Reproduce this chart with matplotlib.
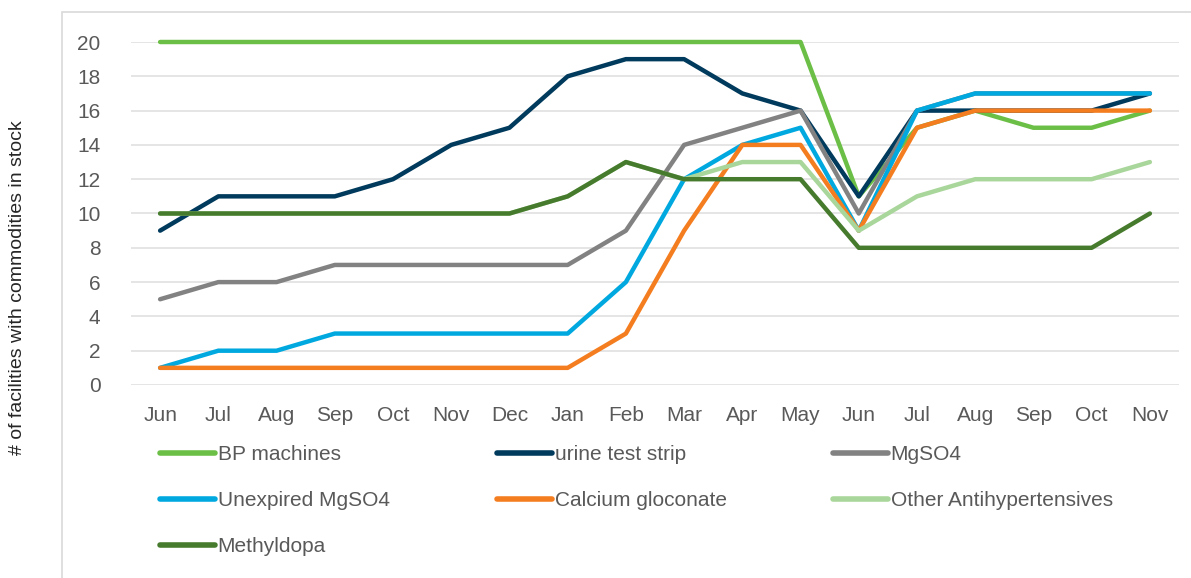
import matplotlib
matplotlib.use("Agg")
import matplotlib.pyplot as plt
from matplotlib.patches import Rectangle

# months on x axis
months = ["Jun", "Jul", "Aug", "Sep", "Oct", "Nov", "Dec", "Jan", "Feb",
          "Mar", "Apr", "May", "Jun", "Jul", "Aug", "Sep", "Oct", "Nov"]

bp_machines = [20, 20, 20, 20, 20, 20, 20, 20, 20, 20, 20, 20, 11, 15, 16, 15, 15, 16]
urine_strip = [9, 11, 11, 11, 12, 14, 15, 18, 19, 19, 17, 16, 11, 16, 16, 16, 16, 17]
mgso4 = [5, 6, 6, 7, 7, 7, 7, 7, 9, 14, 15, 16, 10, 16, 17, 17, 17, 17]
unexpired_mgso4 = [1, 2, 2, 3, 3, 3, 3, 3, 6, 12, 14, 15, 9, 16, 17, 17, 17, 17]
calcium = [1, 1, 1, 1, 1, 1, 1, 1, 3, 9, 14, 14, 9, 15, 16, 16, 16, 16]
other_antihyp = [10, 10, 10, 10, 10, 10, 10, 11, 13, 12, 13, 13, 9, 11, 12, 12, 12, 13]
methyldopa = [10, 10, 10, 10, 10, 10, 10, 11, 13, 12, 12, 12, 8, 8, 8, 8, 8, 10]

series_names = ["BP machines", "urine test strip", "MgSO4", "Unexpired MgSO4",
                "Calcium gloconate", "Other Antihypertensives", "Methyldopa"]
series_vals = [bp_machines, urine_strip, mgso4, unexpired_mgso4, calcium,
               other_antihyp, methyldopa]
colors = ["#6cbf46", "#003a5c", "#828282", "#00a8e0", "#f47d20", "#a9d69a", "#467a2c"]

W, H = 1191, 578
fig = plt.figure(figsize=(W / 100, H / 100), dpi=100)
fig.patch.set_facecolor("white")

# chart area border (cut off right and bottom)
fig.add_artist(Rectangle((62 / W, -0.05), 1.2, 1 - 12 / H + 0.05,
                         transform=fig.transFigure, fill=False,
                         edgecolor="#d9d9d9", linewidth=1.2))

ax = fig.add_axes([131 / W, 1 - 385 / H, (1179 - 131) / W, (385 - 42) / H])
x = list(range(len(months)))
handles = []
for name, vals, c in zip(series_names, series_vals, colors):
    ln, = ax.plot(x, vals, color=c, linewidth=3.2, label=name, clip_on=False,
                  solid_capstyle="round", solid_joinstyle="round", zorder=3)
    handles.append(ln)

ax.set_xlim(-0.5, len(months) - 0.5)
ax.set_ylim(0, 20)
ax.set_yticks(range(0, 21, 2))
ax.set_xticks(x)
ax.set_xticklabels(months)
ax.grid(axis="y", color="#dedede", linewidth=1.1, zorder=0)
ax.set_axisbelow(True)
for s in ax.spines.values():
    s.set_visible(False)
ax.tick_params(length=0, labelsize=15, labelcolor="#595959")
ax.tick_params(axis="y", pad=22)
ax.tick_params(axis="x", pad=15)
for lab in ax.get_xticklabels() + ax.get_yticklabels():
    lab.set_family(["Liberation Sans", "DejaVu Sans"])

fig.text(18 / W, 1 - 288 / H, "# of facilities with commodities in stock",
         rotation=90, ha="center", va="center", fontsize=14,
         color="#262626", family=["Liberation Sans", "DejaVu Sans"])

# legend: three columns placed side by side, filled row by row
col_x = [160, 497, 833]
for i, cx in enumerate(col_x):
    idx = list(range(i, len(handles), 3))
    leg = fig.legend([handles[j] for j in idx], [series_names[j] for j in idx],
                     loc="upper left", bbox_to_anchor=(cx / W, 1 - 445 / H),
                     ncol=1, frameon=False, handlelength=2.65, handletextpad=0.12,
                     labelspacing=1.3, borderpad=0, borderaxespad=0,
                     prop={"family": ["Liberation Sans", "DejaVu Sans"], "size": 15})
    for t in leg.get_texts():
        t.set_color("#595959")
    for h in leg.legend_handles:
        h.set_linewidth(4)
        h.set_solid_capstyle("round")

fig.savefig("out.png", dpi=100)
